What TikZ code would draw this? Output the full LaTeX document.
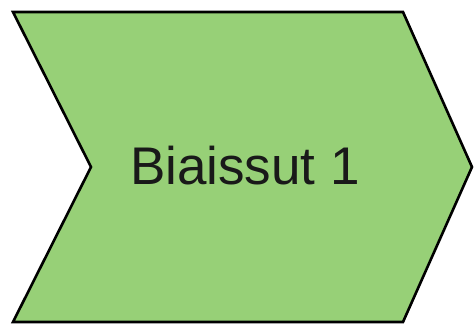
\documentclass[tikz,border=0pt]{standalone}
\usepackage{fontspec}
\setmainfont{Liberation Sans}
\definecolor{chevgreen}{RGB}{151,208,119}
\begin{document}
\begin{tikzpicture}[x=1pt,y=-1pt,
  chev/.style={draw=black,fill=chevgreen,line width=2.6pt,line join=miter},
  lbl/.style={font=\fontsize{53}{63}\selectfont,text=black!90}]
\useasboundingbox (0,0) rectangle (475,331);
\draw[chev] (13,12) -- (403,12) -- (472,167) -- (403,322) -- (13,322) -- (91,167) -- cycle;
\node[lbl,anchor=center] (t) at (245,166) {Biaissut 1};
\end{tikzpicture}
\end{document}
